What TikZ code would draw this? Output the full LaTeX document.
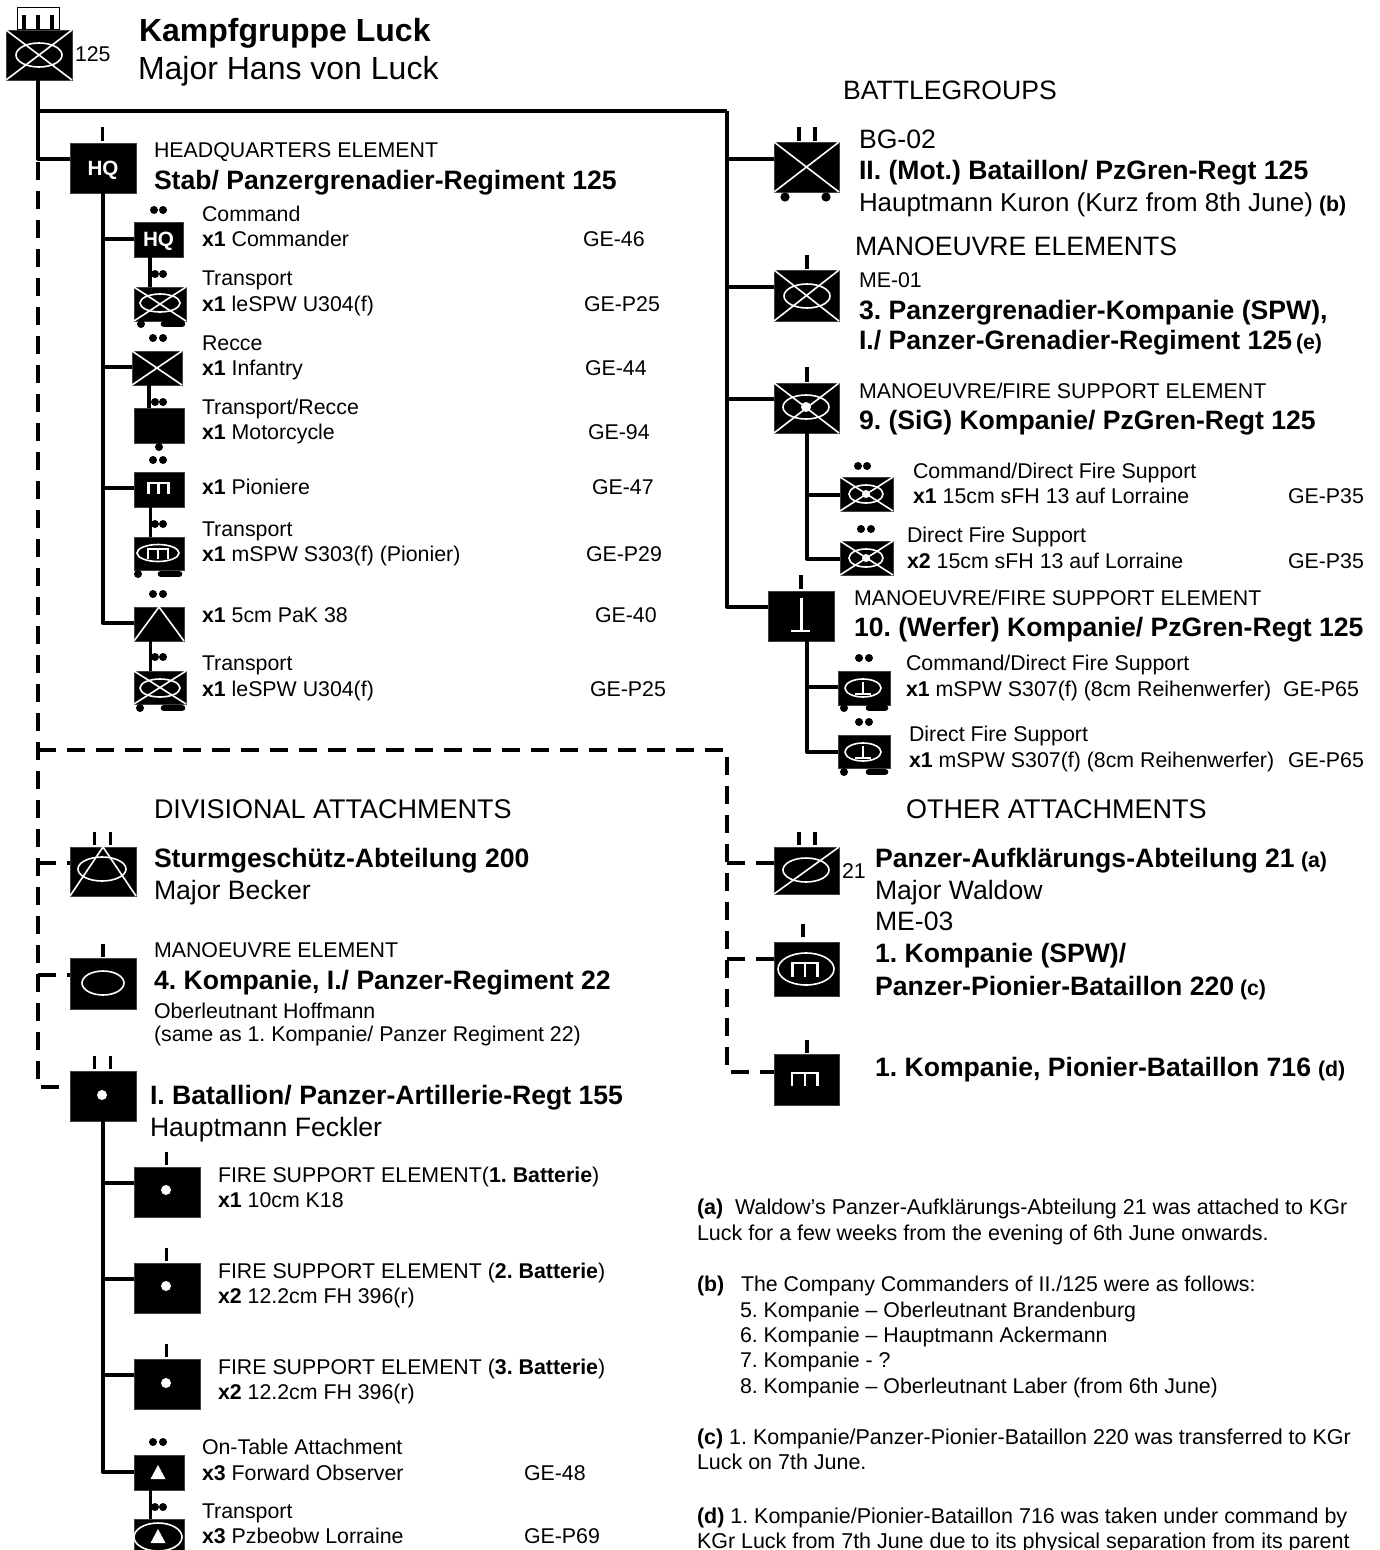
\documentclass[tikz,border=0pt]{standalone}
\usepackage{fontspec}
\setmainfont{Liberation Sans}
\usetikzlibrary{calc}
\frenchspacing
\newcounter{tn}
\tikzset{
  x=0.75pt,y=-0.75pt,
  unit/.style={draw=black!75,fill=black,line width=0.5pt,inner sep=0pt,outer sep=0pt,rectangle},
  conn/.style={line width=3pt,black,line join=round},
  lnk/.style={line width=2.8pt,black,line join=round},
  dsh/.style={line width=3pt,black,dash pattern=on 13.5pt off 8.25pt},
  ws/.style={white,line width=1.2pt},
  txs/.style={anchor=base west,inner sep=0pt,outer sep=0pt,font=\fontsize{16pt}{18pt}\selectfont},
  txn/.style={anchor=base west,inner sep=0pt,outer sep=0pt,font=\fontsize{16.1pt}{18pt}\selectfont},
  txm/.style={anchor=base west,inner sep=0pt,outer sep=0pt,font=\fontsize{19.95pt}{23pt}\selectfont},
  txk/.style={anchor=base west,inner sep=0pt,outer sep=0pt,font=\fontsize{19.45pt}{23pt}\selectfont},
  txd/.style={anchor=base west,inner sep=0pt,outer sep=0pt,font=\fontsize{20.25pt}{23pt}\selectfont},
  txl/.style={anchor=base west,inner sep=0pt,outer sep=0pt,font=\fontsize{24pt}{28pt}\selectfont},
  hqlab/.style={white,font=\bfseries\fontsize{15.5pt}{18pt}\selectfont,inner sep=0pt,yshift=-1.5pt},
}
\newcommand\Tx[4]{\stepcounter{tn}\node[#1] (t\arabic{tn}) at (#2,#3) {#4};}
\newcommand\ubox[5]{\pgfmathsetmacro\uw{(#4-#2)*.75}\pgfmathsetmacro\uh{(#5-#3)*.75}\node[unit,minimum width=\uw pt,minimum height=\uh pt] (#1) at ({(#2+#4)/2},{(#3+#5)/2}) {};}
\newcommand\uX[1]{\draw[ws] (#1.north west)--(#1.south east) (#1.south west)--(#1.north east);}
\newcommand\uD[1]{\draw[ws] (#1.south west)--(#1.north east);}
\newcommand\uA[1]{\draw[ws] (#1.south west)--(#1.north)--(#1.south east);}
\newcommand\uE[4]{\draw[ws] (#1,#2) ellipse [x radius=#3,y radius=#4];}
\newcommand\uDot[3]{\fill[white] (#1,#2) circle [radius=#3];}
\newcommand\uM[4]{\draw[white,line width=1.6pt] (#1,#4)--(#1,#2)--(#3,#2)--(#3,#4) ({(#1+#3)/2},#2)--({(#1+#3)/2},#4);}
\newcommand\bk[3]{\fill[black] (#1,#2) circle [radius=#3];}
\newcommand\pips[3]{\bk{#1}{#3}{4}\bk{#2}{#3}{4}}
\newcommand\ubar[3]{\draw[black,line width=2.4pt] (#1,#2)--(#1,#3);}
\newcommand\whl[4]{\bk{#1}{#4}{4}\draw[black,line width=5pt,line cap=round] ({#2+3},#4)--({#3-3},#4);}
% branch from a trunk at x, height y, into node
\newcommand\hbr[3]{\coordinate (j#3) at (#1,#2);\draw[conn] (j#3) -- (j#3 -| #3.west);}
\newcommand\vlk[3]{\draw[lnk] (#1,0 |- #2.south) -- (#1,0 |- #3.north);}
\begin{document}
\begin{tikzpicture}
\useasboundingbox (0,0) rectangle (1380,1550);
\fill[white] (0,0) rectangle (1380,1550);

% ---------- top unit
\node[draw=black,fill=white,line width=0.8pt,inner sep=0pt,minimum width=32pt,minimum height=17pt] (topcap) at (38.5,18.5) {};
\ubar{24}{15}{30}\ubar{38}{15}{30}\ubar{52}{15}{30}
\ubox{top}{6}{30}{72}{80}\uX{top}\uE{39}{55}{23}{12}

% ---------- left chain
\ubox{hq}{70}{143}{136}{193}
\ubar{102.5}{127}{141}
\node[hqlab] (hqt) at (hq) {HQ};

\ubox{hq1}{134}{222}{183}{257}
\node[hqlab] (hq1t) at (hq1) {HQ};
\pips{154}{163}{210}

\ubox{sp1}{134}{287}{186}{321}\uX{sp1}\uE{160}{303}{20}{9}
\whl{141}{161}{185}{324}
\pips{155}{163}{274}

\ubox{inf}{132}{351}{182}{385}\uX{inf}
\pips{153}{163}{338}

\ubox{mot}{134}{408}{184}{443}
\bk{159}{447}{4}
\pips{155}{163}{402}

\ubox{pio}{134}{472}{184}{507}\uM{148.5}{483}{168.5}{494}
\pips{153}{163}{460}

\ubox{msp}{134}{537}{184}{570}\uE{158}{553}{21}{8.5}\uM{148}{549}{168}{559}
\whl{138}{158}{182}{574}
\pips{155}{163}{524}

\ubox{pak}{134}{607}{184}{641}\uA{pak}
\pips{153}{163}{594}

\ubox{sp2}{134}{671}{186}{704}\uX{sp2}\uE{160}{688}{20}{9}
\whl{140}{161}{185}{708}
\pips{155}{163}{657}

% connectors HQ
\coordinate (tr0) at (38,111);
\coordinate (hqj) at (38,158.5);
\draw[conn] (top.south -| hqj) -- (hqj) -- (hqj -| hq.west);
\coordinate (rc) at (727,111);
\draw[conn] (tr0) -- (rc);
\coordinate (pakj) at (102.5,623);
\draw[conn] (102.5,0 |- hq.south) -- (pakj) -- (pakj -| pak.west);
\hbr{102.5}{239}{hq1}
\hbr{102.5}{367}{inf}
\hbr{102.5}{488}{pio}
\vlk{150}{hq1}{sp1}
\vlk{149}{inf}{mot}
\vlk{150.5}{pio}{msp}
\vlk{150.5}{pak}{sp2}

% ---------- right chain
\ubox{bg}{774}{142}{839}{192}\uX{bg}
\ubar{799}{127}{141}\ubar{815}{127}{141}
\bk{785}{197}{4.6}\bk{826}{197}{4.6}

\ubox{me}{774}{270}{839}{321}\uX{me}\uE{807}{296}{23}{12}
\ubar{807}{255}{269}

\ubox{sig}{774}{383}{839}{433}\uX{sig}\uE{806}{407}{23}{12}\uDot{806}{407}{5}
\ubar{807}{367}{382}

\ubox{sg1}{840}{477}{893}{511}\uX{sg1}\uE{866}{494}{17}{9}\uDot{866}{494}{4}
\pips{858}{867}{466}
\ubox{sg2}{840}{541}{893}{575}\uX{sg2}\uE{866}{558}{17}{9}\uDot{866}{558}{4}
\pips{861}{871}{529}

\ubox{wer}{768}{591}{834}{641}
\ubar{801}{575}{589}
\draw[white,line width=1.6pt] (801.5,598)--(801.5,631) (791,631)--(810,631);

\ubox{we1}{838}{671}{890}{705}\uE{863}{688}{18}{9}
\draw[white,line width=1.2pt] (863,682)--(863,694) (855,694)--(871,694);
\whl{844}{866}{888}{708}
\pips{859}{869}{658}
\ubox{we2}{838}{735}{890}{768}\uE{863}{752}{18}{9}
\draw[white,line width=1.2pt] (863,746)--(863,758) (855,758)--(871,758);
\whl{844}{866}{888}{772}
\pips{859}{869}{722}

\coordinate (werj) at (727,607);
\draw[conn] (rc) -- (werj) -- (werj -| wer.west);
\hbr{727}{159}{bg}
\hbr{727}{287}{me}
\hbr{727}{399}{sig}
\coordinate (sg2j) at (807,559);
\draw[conn] (807,0 |- sig.south) -- (sg2j) -- (sg2j -| sg2.west);
\hbr{807}{495}{sg1}
\coordinate (we2j) at (807,752);
\draw[conn] (807,0 |- wer.south) -- (we2j) -- (we2j -| we2.west);
\hbr{807}{687}{we1}

% ---------- left attachments
\ubox{stu}{70}{847}{136}{896}\uA{stu}\uE{102}{869}{24}{12}
\ubar{94.5}{832}{845}\ubar{110.5}{832}{845}
\ubox{pz}{70}{958}{136}{1009}\uE{103}{983}{21}{12}
\ubar{103}{944}{957}
\ubox{bat}{70}{1071}{136}{1121}\uDot{102}{1095}{5}
\ubar{94.5}{1056}{1069}\ubar{110.5}{1056}{1069}

\ubox{fs1}{134}{1167}{200}{1217}\uDot{166}{1190}{5}
\ubar{166.5}{1152}{1165}
\ubox{fs2}{134}{1263}{200}{1313}\uDot{166}{1286}{5}
\ubar{166.5}{1248}{1261}
\ubox{fs3}{134}{1359}{200}{1409}\uDot{166}{1383}{5}
\ubar{166.5}{1344}{1357}
\ubox{fo}{134}{1455}{184}{1490}
\fill[white] (158,1465)--(165.5,1479)--(150.5,1479)--cycle;
\pips{153}{163}{1442}
\ubox{pzb}{134}{1519}{184}{1556}\uE{158}{1537}{24}{14}
\fill[white] (158,1529)--(165.5,1543)--(150.5,1543)--cycle;
\pips{155}{163}{1507}

\coordinate (foj) at (102.5,1472);
\draw[conn] (102.5,0 |- bat.south) -- (foj) -- (foj -| fo.west);
\hbr{102.5}{1183}{fs1}
\hbr{102.5}{1279}{fs2}
\hbr{102.5}{1375}{fs3}
\vlk{150.5}{fo}{pzb}

% ---------- right attachments
\ubox{pa}{774}{847}{839}{894}\uD{pa}\uE{806}{870}{23}{12}
\ubar{799}{832}{845}\ubar{815}{832}{845}
\ubox{pk}{774}{942}{839}{996}\uE{806}{969}{28}{16}\uM{792.5}{963}{817.5}{977}
\ubar{803}{924}{937}
\ubox{pb}{774}{1054}{839}{1105}\uM{792}{1073}{817.5}{1086}
\ubar{807}{1040}{1053}

% ---------- dashed lines
\coordinate (d0) at (38,162);
\coordinate (dl) at (38,750);
\coordinate (dr) at (727,750);
\coordinate (dstu) at (38,863);
\coordinate (dpz) at (38,975);
\coordinate (dbat) at (38,1087);
\coordinate (dpa) at (727,863);
\coordinate (dpk) at (727,959);
\coordinate (dpb) at (727,1072);
\draw[dsh] (d0) -- (dbat) -- (dbat -| bat.west);
\draw[dsh] (dl) -- (dr) -- (dpb) -- (dpb -| pb.west);
\draw[dsh] (dstu) -- (dstu -| stu.west);
\draw[dsh] (dpz) -- (dpz -| pz.west);
\draw[dsh] (dpa) -- (dpa -| pa.west);
\draw[dsh] (dpk) -- (dpk -| pk.west);

% ---------- texts
\Tx{txl}{139}{41}{\textbf{Kampfgruppe Luck}}
\Tx{txl}{138}{79}{Major Hans von Luck}
\Tx{txs}{75}{61}{125}
\Tx{txs}{154}{157}{HEADQUARTERS ELEMENT}
\Tx{txm}{154}{189}{\textbf{Stab/ Panzergrenadier-Regiment 125}}
\Tx{txs}{202}{221}{Command}
\Tx{txs}{202}{246}{\textbf{x1} Commander}
\Tx{txs}{583}{246}{GE-46}
\Tx{txs}{202}{285}{Transport}
\Tx{txs}{202}{311}{\textbf{x1} leSPW U304(f)}
\Tx{txs}{584}{311}{GE-P25}
\Tx{txs}{202}{350}{Recce}
\Tx{txs}{202}{375}{\textbf{x1} Infantry}
\Tx{txs}{585}{375}{GE-44}
\Tx{txs}{202}{414}{Transport/Recce}
\Tx{txs}{202}{439}{\textbf{x1} Motorcycle}
\Tx{txs}{588}{439}{GE-94}
\Tx{txs}{202}{494}{\textbf{x1} Pioniere}
\Tx{txs}{592}{494}{GE-47}
\Tx{txs}{202}{536}{Transport}
\Tx{txs}{202}{561}{\textbf{x1} mSPW S303(f) (Pionier)}
\Tx{txs}{586}{561}{GE-P29}
\Tx{txs}{202}{622}{\textbf{x1} 5cm PaK 38}
\Tx{txs}{595}{622}{GE-40}
\Tx{txs}{202}{670}{Transport}
\Tx{txs}{202}{696}{\textbf{x1} leSPW U304(f)}
\Tx{txs}{590}{696}{GE-P25}

\Tx{txd}{154}{818}{DIVISIONAL ATTACHMENTS}
\Tx{txm}{154}{867}{\textbf{Sturmgeschütz-Abteilung 200}}
\Tx{txm}{154}{899}{Major Becker}
\Tx{txs}{154}{957}{MANOEUVRE ELEMENT}
\Tx{txm}{154}{989}{\textbf{4. Kompanie, I./ Panzer-Regiment 22}}
\Tx{txs}{154}{1018}{Oberleutnant Hoffmann}
\Tx{txs}{154}{1041}{(same as 1. Kompanie/ Panzer Regiment 22)}
\Tx{txm}{150}{1104}{\textbf{I. Batallion/ Panzer-Artillerie-Regt 155}}
\Tx{txm}{150}{1136}{Hauptmann Feckler}
\Tx{txs}{218}{1182}{FIRE SUPPORT ELEMENT(\textbf{1. Batterie})}
\Tx{txs}{218}{1207}{\textbf{x1} 10cm K18}
\Tx{txs}{218}{1278}{FIRE SUPPORT ELEMENT (\textbf{2. Batterie})}
\Tx{txs}{218}{1303}{\textbf{x2} 12.2cm FH 396(r)}
\Tx{txs}{218}{1374}{FIRE SUPPORT ELEMENT (\textbf{3. Batterie})}
\Tx{txs}{218}{1399}{\textbf{x2} 12.2cm FH 396(r)}
\Tx{txs}{202}{1454}{On-Table Attachment}
\Tx{txs}{202}{1480}{\textbf{x3} Forward Observer}
\Tx{txs}{524}{1480}{GE-48}
\Tx{txs}{202}{1518}{Transport}
\Tx{txs}{202}{1543}{\textbf{x3} Pzbeobw Lorraine}
\Tx{txs}{524}{1543}{GE-P69}

\Tx{txm}{843}{99}{BATTLEGROUPS}
\Tx{txm}{859}{148}{BG-02}
\Tx{txm}{859}{179}{\textbf{II. (Mot.) Bataillon/ PzGren-Regt 125}}
\Tx{txk}{859}{211}{Hauptmann Kuron (Kurz from 8th June)}
\Tx{txs}{1319}{211}{\textbf{(b)}}
\Tx{txm}{855}{255}{MANOEUVRE ELEMENTS}
\Tx{txs}{859}{287}{ME-01}
\Tx{txm}{859}{319}{\textbf{3. Panzergrenadier-Kompanie (SPW),}}
\Tx{txm}{859}{349}{\textbf{I./ Panzer-Grenadier-Regiment 125}}
\Tx{txs}{1296}{349}{\textbf{(e)}}
\Tx{txs}{859}{398}{MANOEUVRE/FIRE SUPPORT ELEMENT}
\Tx{txm}{859}{429}{\textbf{9. (SiG) Kompanie/ PzGren-Regt 125}}
\Tx{txs}{913}{478}{Command/Direct Fire Support}
\Tx{txs}{913}{503}{\textbf{x1} 15cm sFH 13 auf Lorraine}
\Tx{txs}{1288}{503}{GE-P35}
\Tx{txs}{907}{542}{Direct Fire Support}
\Tx{txs}{907}{568}{\textbf{x2} 15cm sFH 13 auf Lorraine}
\Tx{txs}{1288}{568}{GE-P35}
\Tx{txs}{854}{605}{MANOEUVRE/FIRE SUPPORT ELEMENT}
\Tx{txm}{854}{636}{\textbf{10. (Werfer) Kompanie/ PzGren-Regt 125}}
\Tx{txs}{906}{670}{Command/Direct Fire Support}
\Tx{txs}{906}{696}{\textbf{x1} mSPW S307(f) (8cm Reihenwerfer)}
\Tx{txs}{1283}{696}{GE-P65}
\Tx{txs}{909}{741}{Direct Fire Support}
\Tx{txs}{909}{767}{\textbf{x1} mSPW S307(f) (8cm Reihenwerfer)}
\Tx{txs}{1288}{767}{GE-P65}
\Tx{txd}{906}{818}{OTHER ATTACHMENTS}
\Tx{txs}{842}{878}{21}
\Tx{txm}{875}{867}{\textbf{Panzer-Aufklärungs-Abteilung 21}}
\Tx{txs}{1301}{867}{\textbf{(a)}}
\Tx{txm}{875}{899}{Major Waldow}
\Tx{txm}{875}{930}{ME-03}
\Tx{txm}{875}{962}{\textbf{1. Kompanie (SPW)/}}
\Tx{txm}{875}{995}{\textbf{Panzer-Pionier-Bataillon 220}}
\Tx{txs}{1240}{995}{\textbf{(c)}}
\Tx{txm}{875}{1076}{\textbf{1. Kompanie, Pionier-Bataillon 716}}
\Tx{txs}{1318}{1076}{\textbf{(d)}}

\Tx{txn}{697}{1214}{\textbf{(a)}\ \ Waldow’s Panzer-Aufklärungs-Abteilung 21 was attached to KGr}
\Tx{txn}{697}{1240}{Luck for a few weeks from the evening of 6th June onwards.}
\Tx{txs}{697}{1291}{\textbf{(b)}\hspace*{12.6pt}The Company Commanders of II./125 were as follows:}
\Tx{txs}{740}{1317}{5. Kompanie – Oberleutnant Brandenburg}
\Tx{txs}{740}{1342}{6. Kompanie – Hauptmann Ackermann}
\Tx{txs}{740}{1367}{7. Kompanie - ?}
\Tx{txs}{740}{1393}{8. Kompanie – Oberleutnant Laber (from 6th June)}
\Tx{txn}{697}{1444}{\textbf{(c)} 1. Kompanie/Panzer-Pionier-Bataillon 220 was transferred to KGr}
\Tx{txn}{697}{1469}{Luck on 7th June.}
\Tx{txn}{697}{1523}{\textbf{(d)} 1. Kompanie/Pionier-Bataillon 716 was taken under command by}
\Tx{txn}{697}{1548}{KGr Luck from 7th June due to its physical separation from its parent}
\end{tikzpicture}
\end{document}
